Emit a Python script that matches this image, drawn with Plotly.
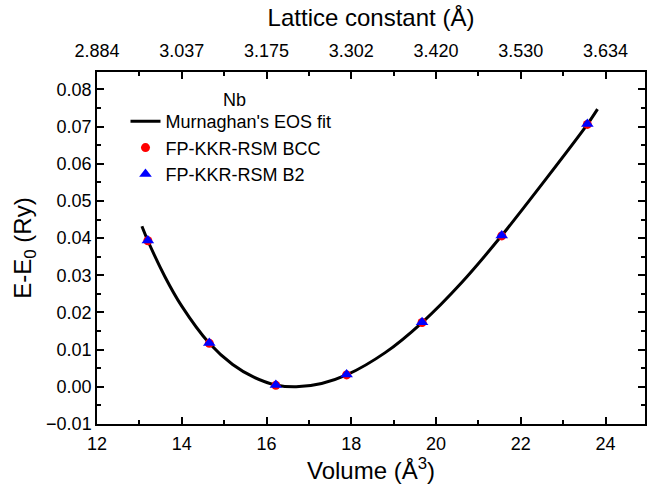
import plotly.graph_objects as go

# Data
volume_pts = [13.20, 14.65, 16.22, 17.89, 19.67, 21.55, 23.57]
energy_bcc = [0.0393, 0.0117, 0.0004, 0.0032, 0.0173, 0.0406, 0.0706]
energy_b2 = [0.0394, 0.0118, 0.0005, 0.0033, 0.0174, 0.0407, 0.0707]

fit_volume = [13.06, 13.20, 13.60, 14.00, 14.65, 15.20, 15.70, 16.22, 16.70,
              17.30, 17.89, 18.80, 19.67, 20.60, 21.55, 22.60, 23.57, 23.81]
fit_energy = [0.0432, 0.0393, 0.0297, 0.0217, 0.0117, 0.0060, 0.0026, 0.0005, 0.0000,
              0.0009, 0.0032, 0.0092, 0.0173, 0.0280, 0.0407, 0.0560, 0.0706, 0.0747]

bottom_ticks = [12, 14, 16, 18, 20, 22, 24]
top_tick_labels = ["2.884", "3.037", "3.175", "3.302", "3.420", "3.530", "3.634"]

FONT = "Liberation Sans, Arial, sans-serif"
TICK = 18
TITLE = 24

fig = go.Figure()
fig.add_trace(go.Scatter(x=fit_volume, y=fit_energy, mode="lines",
                         line=dict(color="black", width=3, shape="spline", smoothing=0.8),
                         name="Murnaghan's EOS fit"))
fig.add_trace(go.Scatter(x=volume_pts, y=energy_bcc, mode="markers",
                         marker=dict(symbol="circle", color="#ff0000", size=9),
                         name="FP-KKR-RSM BCC"))
fig.add_trace(go.Scatter(x=volume_pts, y=energy_b2, mode="markers",
                         marker=dict(symbol="triangle-up", color="#0000ff", size=11),
                         name="FP-KKR-RSM B2"))
# helper trace so the top axis is drawn
fig.add_trace(go.Scatter(x=[bottom_ticks[0]], y=[None], xaxis="x2", mode="markers",
                         showlegend=False, hoverinfo="skip"))

x_range = [12, 24.93]
axis_common = dict(showline=True, linecolor="black", linewidth=1.5, showgrid=False,
                   zeroline=False, ticks="inside", ticklen=7, tickwidth=1.5, tickcolor="black",
                   tickfont=dict(family=FONT, size=TICK, color="black"))
minor_x = dict(ticks="inside", ticklen=4, tickwidth=1.5, tickcolor="black", dtick=1)

fig.update_layout(
    width=648, height=493,
    margin=dict(l=97, r=1, t=72, b=69),
    plot_bgcolor="white", paper_bgcolor="white",
    font=dict(family=FONT, color="black"),
    xaxis=dict(range=x_range, tickvals=bottom_ticks, minor=minor_x, ticklabelstandoff=3,
               title=dict(text="Volume (Å<sup>3</sup>)", font=dict(family=FONT, size=TITLE), standoff=9),
               **axis_common),
    xaxis2=dict(range=x_range, overlaying="x", side="top", tickvals=bottom_ticks,
                ticktext=top_tick_labels, minor=minor_x, ticklabelstandoff=6,
                title=dict(text="Lattice constant (Å)", font=dict(family=FONT, size=TITLE), standoff=8),
                **axis_common),
    yaxis=dict(range=[-0.01, 0.0847], dtick=0.01, tick0=0, tickformat=".2f", mirror="ticks",
               minor=dict(ticks="inside", ticklen=4, tickwidth=1.5, tickcolor="black", dtick=0.005),
               ticklabelstandoff=0,
               title=dict(text="E-E<sub>0</sub> (Ry)", font=dict(family=FONT, size=TITLE), standoff=8),
               **axis_common),
    legend=dict(x=0.052, y=0.912, xanchor="left", yanchor="top", bgcolor="rgba(0,0,0,0)",
                font=dict(family=FONT, size=18, color="black"), tracegroupgap=0),
    showlegend=True,
)
pw = 648 - 97 - 1
ph = 493 - 72 - 69
fig.add_annotation(text="Nb", x=(235 - 97) / pw, y=(493 - 69 - 100) / ph,
                   xref="paper", yref="paper", xanchor="center", yanchor="middle",
                   showarrow=False, font=dict(family=FONT, size=18, color="black"))

fig.write_html("out.html")
